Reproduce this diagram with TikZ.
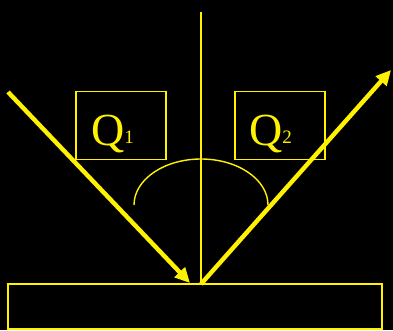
\documentclass[tikz,border=0pt]{standalone}
\usepackage{fontspec}
\setmainfont{Liberation Serif}
\usetikzlibrary{arrows.meta}
\begin{document}
\begin{tikzpicture}[x=1pt,y=-1pt,
    ray/.style={yellow,line width=4.4pt,-{Triangle[length=15pt,width=14pt]}},
    thin/.style={yellow,line width=1.4pt},
    qbox/.style={draw=yellow,line width=1.4pt,minimum width=90pt,minimum height=68pt,inner sep=0pt},
    qtxt/.style={text=yellow,inner sep=0pt,anchor=base west,font=\fontsize{46}{50}\selectfont}]
  \fill[black] (0,0) rectangle (393,330);
  \useasboundingbox (0,0) rectangle (393,330);
  % surface and normal
  \draw[thin] (8,284) rectangle (382,329);
  \coordinate (top) at (201,12);
  \coordinate (foot) at (201,284);
  \draw[thin] (top) -- (foot);
  % the angle arc
  \draw[thin] (134,205) arc[start angle=180,end angle=360,x radius=67,y radius=46];
  % the two boxes
  \node[qbox] (q1box) at (121,125.5) {};
  \node[qbox] (q2box) at (280,125.5) {};
  \node[qtxt] (q1) at (91,145) {Q{\fontsize{19}{20}\selectfont\raisebox{2pt}{1}}};
  \node[qtxt] (q2) at (249,145) {Q{\fontsize{19}{20}\selectfont\raisebox{2pt}{2}}};
  % incoming and reflected rays
  \coordinate (src) at (8,92);
  \coordinate (hit) at (190,283);
  \coordinate (out) at (391,70);
  \draw[ray] (src) -- (hit);
  \draw[ray] (foot) -- (out);
\end{tikzpicture}
\end{document}
